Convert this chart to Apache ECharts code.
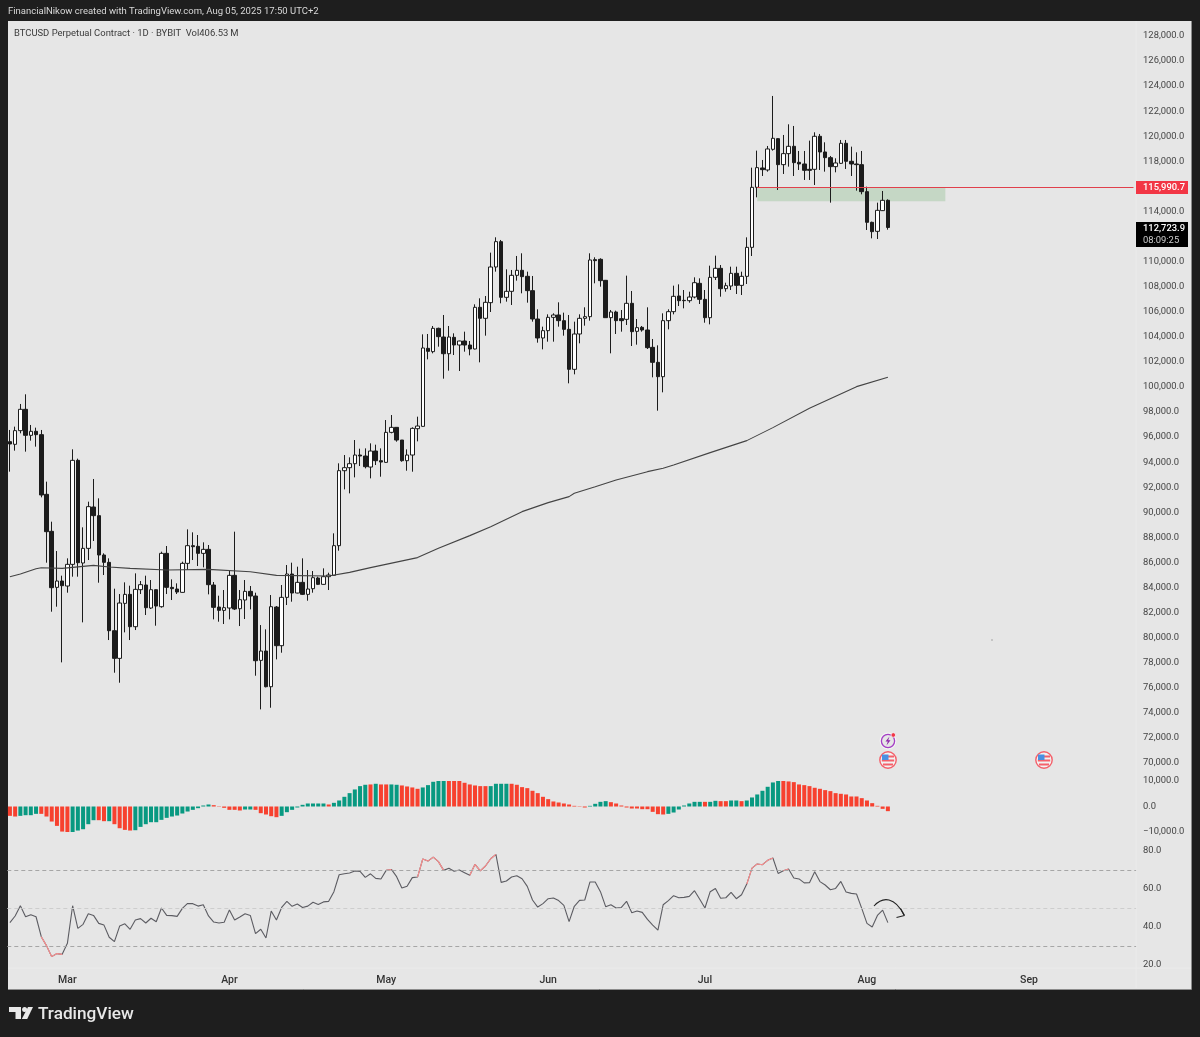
<!DOCTYPE html>
<html>
<head>
<meta charset="utf-8">
<title>BTCUSD</title>
<script src="https://cdn.jsdelivr.net/npm/echarts@6/dist/echarts.min.js"></script>
<style>
  html, body { margin: 0; padding: 0; background: #1e1e1e; }
  #chart { width: 1200px; height: 1037px; }
</style>
</head>
<body>
<div id="chart"></div>
<script>
// daily candles, 18 Feb -> 5 Aug 2025
const opens = [95637,95424,96515,98217,96142,96462,96196,91434,88482,84013,
  84518,84119,85848,94147,85955,87125,90423,89732,86593,86008,
  80555,78347,82736,83454,80874,83827,84199,82364,83827,82470,
  86726,84013,83880,83614,85928,87338,87285,86726,87045,84199,
  82443,82177,82364,84970,82310,83002,83694,83321,78187,78932,
  76086,82443,79358,83215,85077,83561,84412,83454,83906,84758,
  84252,84864,84970,87338,93320,93559,93878,94570,94490,93612,
  94889,94118,93985,96379,96778,95767,94118,94570,96672,96858,
  103082,102816,104678,103986,102653,103960,103348,103667,103348,103029,
  106354,105476,106726,109572,111594,107152,107631,108907,109306,108828,
  107684,105423,103907,104492,105556,105742,105290,104598,101406,104226,
  105476,105609,110158,110184,108508,105529,105981,105450,105396,106673,
  104439,104758,104545,103162,101965,100821,105290,106008,107256,106910,
  106884,107176,108267,106990,105527,108746,109464,107841,108054,109065,
  108107,108826,111140,115928,117471,117311,118960,119811,117737,118614,
  119200,117923,117790,117364,117364,119998,118747,118295,117577,117843,
  119439,118003,117790,117737,115582,113135,112417,114066,114890];
const closes = [95451,96515,98217,96142,96462,96196,91381,88455,83986,84518,
  84146,85848,94147,85981,87125,90450,89732,86593,86008,80555,
  78347,82763,83454,80874,83853,84226,82390,83827,82523,86726,
  84013,83906,83640,85928,87338,87258,86726,87045,84226,82417,
  82177,82390,84970,82284,83029,83694,83321,78161,78932,76086,
  82470,79358,83215,85077,83561,84412,83454,83880,84784,84252,
  84864,84997,87338,93323,93559,93878,94570,94490,93639,94889,
  94118,94011,96379,96778,95767,94118,94570,96698,96884,103109,
  102843,104678,104013,102653,103986,103348,103667,103348,103029,106354,
  105476,106753,109572,111594,107152,107631,108907,109306,108801,107684,
  105423,103907,104492,105556,105742,105290,104598,101406,104226,105476,
  105609,110131,110078,108482,105529,105981,105290,105290,106673,104412,
  104731,104545,103135,101965,100821,105290,106008,107232,106884,106884,
  107176,108320,106990,105527,108746,109464,107841,108081,109065,108107,
  108826,111140,115928,117497,117338,118987,119838,117737,118614,119200,
  117896,117790,117284,117284,119998,118747,118295,117577,117870,119439,
  118003,117790,117737,115582,113135,112390,114092,114890,112723.9];
const highs = [96568,96834,98643,99414,96967,96754,96568,92445,89253,86912,
  84944,86327,95025,94280,88801,90849,92658,91115,86726,86327,
  83906,83481,84412,84146,85130,84518,84944,84598,83853,86859,
  87311,84651,84332,86061,88641,88402,88189,87604,87391,84438,
  83348,83800,85396,88455,83800,84598,84119,83587,81007,80661,
  83401,82523,84199,85795,85981,85662,86327,85396,85316,84864,
  85529,85183,88322,93908,94570,94384,95767,95076,95102,95501,
  95395,95102,97363,97762,96778,95767,95022,96778,97629,104199,
  104226,104864,104731,105742,104864,104279,103694,104412,103667,106593,
  107072,107258,110716,111940,111727,109386,109333,110450,110663,109200,
  108854,106194,104811,105795,105875,106753,105928,105742,105210,105795,
  106354,110663,110344,110264,108535,106141,106088,106141,108881,107657,
  105423,104864,106354,103827,103321,105875,106194,108083,108187,107735,
  107602,108746,108666,107735,109677,110475,109730,108320,109597,109597,
  109198,111938,117497,118854,118109,119226,123216,119838,120104,120955,
  120822,118827,118827,119652,120317,120184,119519,118428,118242,119705,
  119705,119173,118721,118827,115981,113188,114704,115635,114970];
const lows = [93243,94919,96302,94839,95717,95238,91195,85981,82071,82470,
  78028,83587,84864,84864,81220,86194,87710,84385,84997,79810,
  77203,76405,80422,79810,80608,83481,81805,82284,80954,82390,
  83481,83002,83481,83587,85396,86194,85715,85609,83454,81459,
  81273,81087,81459,82204,80927,81486,82257,76964,74277,76033,
  74410,78267,78799,82603,82869,83534,83401,82949,83587,84199,
  84226,83800,84944,86939,91830,91511,92788,93692,93506,92708,
  93772,92841,93958,96299,95634,94038,93320,93240,95661,96831,
  102204,102683,103215,100661,101300,102550,101273,102816,102523,103002,
  101965,104093,105981,109200,106673,106806,106540,108482,107471,106726,
  105210,103534,103002,103614,103614,104811,104093,100289,101007,103481,
  104891,105290,108269,108003,105529,102683,104226,104412,104944,103268,
  103375,104412,103029,100768,98108,99571,104598,105795,106458,106272,
  106724,107070,106618,105128,104995,108533,107203,107602,107735,107416,
  107336,108214,110448,115130,116832,117178,118854,115715,116992,117577,
  116832,117311,116513,116513,116114,117311,117178,114704,117125,117790,
  117391,116832,115662,115369,112523,111858,111805,114039,112550];

// 200 day average, read at these bar numbers
const smaBars = [0,2,5,6,10,16,19,23,30,38,46,51,61,65,69,78,82,88,92,98,103,107,108,112,116,122,125,127,134,141,146,153,162,168];
const smaValues = [84864,85077,85500,85582,85529,85770,85635,85529,85396,85449,85263,84970,84922,85210,85587,86385,87129,88140,88857,90054,90772,91250,91519,92046,92580,93243,93514,93778,94762,95719,96756,98298,100027,100771];

const macdValues = [-3670,-3930,-3670,-3410,-3410,-2880,-2880,-3930,-5900,-7600,
  -9830,-10870,-10480,-9430,-8910,-6940,-5370,-5370,-5760,-5760,
  -6940,-8520,-9170,-9430,-9300,-7990,-6940,-6160,-6160,-5240,
  -4450,-3930,-3540,-2750,-1970,-1310,-660,390,790,520,
  -130,-520,-1310,-1310,-1570,-1180,-1180,-1310,-2620,-3140,
  -3800,-4190,-3670,-2230,-1310,-390,660,1180,1180,1180,
  1180,790,1440,2360,3800,5240,6680,7990,8520,8650,
  8910,8650,8650,8650,8520,8250,7860,7470,6940,7470,
  8380,9690,10740,11270,10870,10740,10090,9300,8650,8250,
  7990,7990,7990,8910,8910,8910,8910,8520,7600,7200,
  6160,5240,3800,2880,1970,1570,1180,790,260,-130,
  -390,260,1050,1830,2100,1700,1180,390,-390,-790,
  -790,-1050,-1050,-2100,-3010,-3140,-2880,-2360,-1180,390,
  1180,1830,1830,1830,1830,2230,2100,2100,2360,2360,
  2100,2360,3540,4720,6160,7730,9430,10220,10220,9830,
  9560,8650,8380,7990,7340,6940,6420,6030,5240,4980,
  4720,3930,3930,3280,2360,1310,260,-920,-1830];
// bar numbers (1 based) where the histogram is teal, all others red
const macdTealSpans = [[3,6],[13,17],[20,20],[25,39],[46,47],[53,61],[63,69],[71,71],[74,75],[80,84],[93,96],[112,115],[127,133],[135,136],[139,140],[142,148]];

const rsiValues = [42.3,45.8,51.2,45.4,46.5,45.4,34.9,30.2,24.4,26,
  25.6,31.4,51.2,39.3,41.4,47,46.1,41.9,41,34.6,
  32.3,40.5,41.7,38.8,43.7,44.4,42.1,44.6,42.8,50,
  46.1,46,45.6,49.8,52.4,52.3,51,51.7,45.8,42.6,
  42.1,42.5,49,43.7,45.3,47,46.1,36.5,38.8,34.2,
  48.4,43.7,50.3,53.5,50.9,52.1,50.3,51,53,51.9,
  53.2,53.5,58.6,67.5,68,68.4,69.5,69.3,66.1,68,
  65.6,65.3,69.8,70.3,66.5,60.5,61.4,66,66.3,75.8,
  74.7,76.8,74.4,69.8,70.9,69.3,70,68.6,67.2,73,
  69.5,72.1,75.9,78.2,63.5,64.2,66.3,67,65.4,61.4,
  54.2,50.5,52.3,54.9,55.3,53.9,51.4,42.8,50.9,54,
  54.2,63.7,63.7,58.6,50.7,51.7,50,50.3,53.5,47.5,
  48.4,47.7,44,41,38.4,51.7,53.9,56.5,55.4,55.6,
  56.1,59.1,54.6,50,58.6,60.3,55.1,55.4,58.2,54.9,
  57,62.6,71,73.2,72.8,75.1,76.3,68.2,69.6,70.5,
  65.8,65.3,63.2,63.3,69.1,63.9,62.1,59.6,60.3,64,
  58.4,57.7,57.4,49.8,41.9,40,46.1,48.9,42.3];
// bar numbers (1 based) of the overbought / oversold red parts
const rsiRedSpans = [[7,11],[73,74],[79,84],[89,94],[142,147],[149,150]];

const rsiLevels = [70, 50, 30];
const monthTicks = {'2025-03-01':'Mar','2025-04-01':'Apr','2025-05-01':'May','2025-06-01':'Jun','2025-07-01':'Jul','2025-08-01':'Aug','2025-09-01':'Sep'};
const lastPrice = '112,723.9';
const countdown = '08:09:25';
const levelPrice = 115930;
const levelLabel = '115,990.7';
const zoneTop = 115900;
const zoneBottom = 114811;

// axis has room for 216 days so the empty space to the right stays
const dates = [];
for (let i = 0; i < 216; i++) {
  dates.push(new Date(Date.UTC(2025, 1, 18 + i)).toISOString().slice(0, 10));
}

const inSpans = (spans, n) => spans.some(s => n >= s[0] && n <= s[1]);
const fmt = v => (v < 0 ? '\u2212' : '') + Math.abs(v).toLocaleString('en-US', {minimumFractionDigits: 1, maximumFractionDigits: 1});

const FONT = 'Roboto';
const left = 7.3, gridW = 1128.8;

function yAxisBase(i, min, max, interval) {
  return {
    type: 'value', gridIndex: i, position: 'right', min: min, max: max, interval: interval,
    splitLine: {show: false}, axisLine: {show: false}, axisTick: {show: false},
    axisLabel: {color: '#444', fontSize: 9.4, fontFamily: FONT, margin: 7, padding: [4, 0, 0, 0], formatter: fmt}
  };
}

const chart = echarts.init(document.getElementById('chart'), null, {renderer: 'canvas'});

var option = {
  animation: false,
  backgroundColor: '#1e1e1e',
  grid: [
    {left: left, width: gridW, top: 36, height: 727},
    {left: left, width: gridW, top: 781, height: 51},
    {left: left, width: gridW, top: 851, height: 114}
  ],
  xAxis: [0, 1, 2].map(i => ({
    type: 'category', gridIndex: i, data: dates, z: 3,
    show: i === 2,
    axisLine: {show: false}, axisTick: {show: false}, splitLine: {show: false},
    axisLabel: {
      color: '#333', fontSize: 10.5, fontFamily: FONT, margin: 10, fontWeight: 500,
      interval: (idx, val) => !!monthTicks[val],
      formatter: val => monthTicks[val] || ''
    }
  })),
  yAxis: [
    yAxisBase(0, 70000, 128000, 2000),
    yAxisBase(1, -10000, 10000, 10000),
    Object.assign(yAxisBase(2, 20, 80, 20), {z: 1})
  ],
  series: [
    {
      type: 'candlestick', xAxisIndex: 0, yAxisIndex: 0, barWidth: 4,
      data: opens.map((o, i) => [o, closes[i], lows[i], highs[i]]),
      itemStyle: {color: '#ffffff', color0: '#1c1c1c', borderColor: '#1c1c1c', borderColor0: '#1c1c1c', borderWidth: 1},
      markArea: {
        silent: true,
        itemStyle: {color: 'rgba(100,170,100,0.25)'},
        data: [[{coord: [143, zoneTop]}, {coord: [179, zoneBottom]}]]
      },
      markLine: {
        silent: true, symbol: 'none', label: {show: false},
        data: [[
          {coord: [143, levelPrice], lineStyle: {color: '#e0404c', width: 1, type: 'solid'}},
          {coord: [215, levelPrice]}
        ]]
      }
    },
    {
      type: 'line', xAxisIndex: 0, yAxisIndex: 0, showSymbol: false, symbol: 'none',
      data: smaBars.map((b, i) => [b, smaValues[i]]),
      lineStyle: {color: '#444', width: 1.1}, z: 3
    },
    {
      type: 'bar', xAxisIndex: 1, yAxisIndex: 1, barWidth: 4,
      data: macdValues.map((v, i) => ({
        value: v,
        itemStyle: {color: inSpans(macdTealSpans, i + 1) ? '#089981' : '#f7412f'}
      }))
    },
    {
      type: 'line', xAxisIndex: 2, yAxisIndex: 2, showSymbol: false, symbol: 'none',
      data: rsiValues,
      lineStyle: {color: '#5c5c62', width: 1.1},
      markLine: {
        silent: true, symbol: 'none', label: {show: false},
        data: rsiLevels.map(v => ({
          yAxis: v,
          lineStyle: {color: v === 50 ? '#cdcdcd' : '#a6a6a6', width: 1, type: [4, 3]}
        }))
      }
    },
    {
      type: 'line', xAxisIndex: 2, yAxisIndex: 2, showSymbol: false, symbol: 'none',
      data: rsiValues.map((v, i) => inSpans(rsiRedSpans, i + 1) ? v : null),
      lineStyle: {color: '#ff8f8f', width: 1.1}, z: 3
    }
  ],
  graphic: [
    // panel goes under everything
    {type: 'rect', z: -10, shape: {x: 8, y: 21, width: 1183.5, height: 968}, style: {fill: '#e6e6e6'}},
    {type: 'polyline', z: -9, shape: {points: [[1191.5, 21], [1191.5, 989.5], [8, 989.5]]}, style: {stroke: '#8c8c8c', lineWidth: 1, fill: 'none'}},
    {type: 'line', z: -9, shape: {x1: 1136, y1: 21, x2: 1136, y2: 988}, style: {stroke: '#ebebeb', lineWidth: 1}},
    // cuts the 20.0 label like the time scale does
    {type: 'rect', z: 2, shape: {x: 1137, y: 968, width: 54, height: 20.5}, style: {fill: '#e6e6e6'}},
    {type: 'line', z: 2, shape: {x1: 8, y1: 968, x2: 1191, y2: 968}, style: {stroke: '#ebebeb', lineWidth: 1}},

    {type: 'text', z: 20, style: {x: 8, y: 12, text: 'FinancialNikow created with TradingView.com, Aug 05, 2025 17:50 UTC+2', fill: '#d8d8d8', font: '9.5px ' + FONT, textVerticalAlign: 'middle'}},
    {type: 'text', z: 20, style: {x: 14, y: 34, text: 'BTCUSD Perpetual Contract \u00b7 1D \u00b7 BYBIT  Vol406.53\u2009M', fill: '#3a3a3a', font: '9.45px ' + FONT, textVerticalAlign: 'middle'}},

    // price tags
    {type: 'rect', z: 20, shape: {x: 1136, y: 181, width: 52, height: 13}, style: {fill: '#f23645'}},
    {type: 'text', z: 21, style: {x: 1143, y: 188, text: levelLabel, fill: '#fff', font: '500 9.4px ' + FONT, textVerticalAlign: 'middle'}},
    {type: 'rect', z: 20, shape: {x: 1136, y: 222, width: 52, height: 25}, style: {fill: '#000'}},
    {type: 'text', z: 21, style: {x: 1143, y: 229, text: lastPrice, fill: '#fff', font: '500 9.4px ' + FONT, textVerticalAlign: 'middle'}},
    {type: 'text', z: 21, style: {x: 1143, y: 240.5, text: countdown, fill: '#cfcfcf', font: '9.4px ' + FONT, textVerticalAlign: 'middle'}},

    // hand drawn arrow on the rsi
    {type: 'bezierCurve', z: 20, shape: {x1: 874, y1: 906, cpx1: 883, cpy1: 896, cpx2: 895, cpy2: 897, x2: 904, y2: 915}, style: {stroke: '#222', lineWidth: 1.1, fill: 'none'}},
    {type: 'line', z: 20, shape: {x1: 896.5, y1: 917.5, x2: 904.5, y2: 915.5}, style: {stroke: '#222', lineWidth: 1.2}},
    {type: 'line', z: 20, shape: {x1: 900.5, y1: 908.5, x2: 904.5, y2: 915.5}, style: {stroke: '#222', lineWidth: 1.2}},

    // speck left on the chart
    {type: 'circle', z: 20, shape: {cx: 992, cy: 640, r: 0.7}, style: {fill: '#8a8a8a'}},

    // event icons
    {type: 'circle', z: 20, shape: {cx: 888, cy: 741, r: 8.4}, style: {fill: '#f4f4f4'}},
    {type: 'circle', z: 20, shape: {cx: 888, cy: 741, r: 6.6}, style: {fill: '#e6e6e6', stroke: '#a43ec4', lineWidth: 1.3}},
    {type: 'polygon', z: 21, shape: {points: [[889.5, 736.5], [885.5, 741.5], [887.8, 741.5], [886.5, 745.5], [890.5, 740.3], [888.2, 740.3]]}, style: {fill: '#8e24aa'}},
    {type: 'circle', z: 21, shape: {cx: 893.3, cy: 735, r: 2.3}, style: {fill: '#f23645', stroke: '#f4f4f4', lineWidth: 0.8}},
    ...[888, 1044].flatMap(cx => [
      {type: 'circle', z: 20, shape: {cx: cx, cy: 760, r: 8.2}, style: {fill: '#f2f2f2', stroke: '#f4606a', lineWidth: 1.4}},
      {type: 'rect', z: 21, shape: {x: cx - 6, y: 755.5, width: 12, height: 2}, style: {fill: '#f4606a'}},
      {type: 'rect', z: 21, shape: {x: cx - 6.2, y: 759.5, width: 12.4, height: 2}, style: {fill: '#f4606a'}},
      {type: 'rect', z: 21, shape: {x: cx - 5, y: 763.5, width: 10, height: 2}, style: {fill: '#f4606a'}},
      {type: 'rect', z: 22, shape: {x: cx - 6, y: 754.5, width: 6.5, height: 5.5}, style: {fill: '#4a90e2'}}
    ]),

    // logo
    {type: 'polygon', z: 20, shape: {points: [[9, 1007], [21, 1007], [21, 1019], [15.5, 1019], [15.5, 1012], [9, 1012]]}, style: {fill: '#e8e8e8'}},
    {type: 'circle', z: 20, shape: {cx: 24.6, cy: 1009.5, r: 2.5}, style: {fill: '#e8e8e8'}},
    {type: 'polygon', z: 20, shape: {points: [[28, 1007], [33, 1007], [27.2, 1019], [21.8, 1019]]}, style: {fill: '#e8e8e8'}},
    {type: 'text', z: 20, style: {x: 38, y: 1014.5, text: 'TradingView', fill: '#e8e8e8', font: '500 17.2px ' + FONT, textVerticalAlign: 'middle'}}
  ]
};

chart.setOption(option);
</script>
</body>
</html>
